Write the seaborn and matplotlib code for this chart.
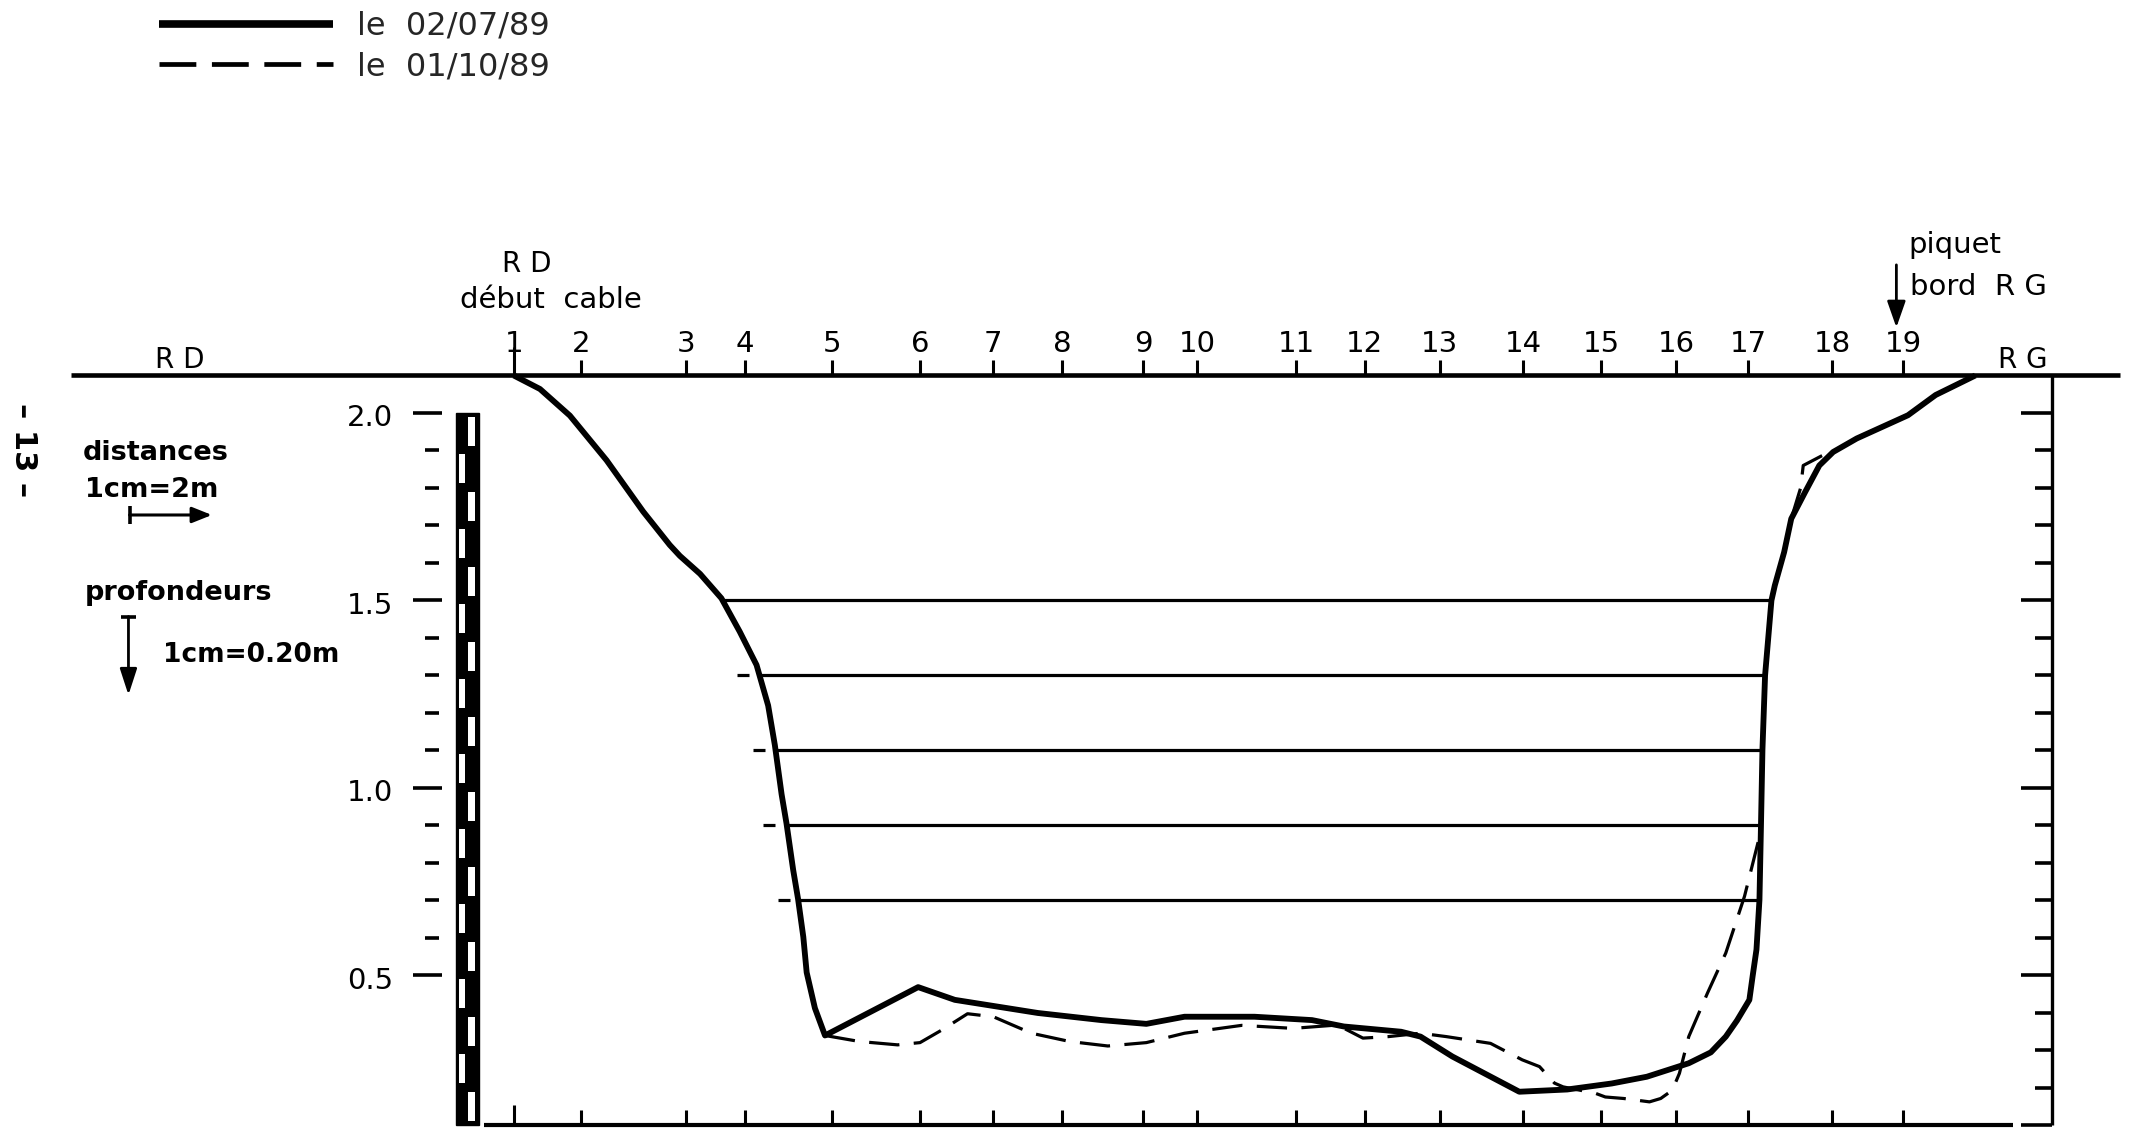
import numpy as np
import pandas as pd
import matplotlib
matplotlib.use("Agg")
import matplotlib.pyplot as plt
from matplotlib.patches import Rectangle
import seaborn as sns

# ---------------------------------------------------------------- données
# Verticales de jaugeage : numéro et abscisse (m) depuis la verticale 1
verticales = list(range(1, 20))
abscisses_verticales = [0.00, 1.79, 4.60, 6.17, 8.52, 10.86, 12.82, 14.66, 16.82, 18.27,
                        20.91, 22.75, 24.75, 26.98, 29.07, 31.07, 33.00, 35.25, 37.15]

# Profil en travers du 02/07/89 (abscisse m, cote m)
x_0207 = [0.00, 0.70, 1.50, 2.48, 3.46, 4.17, 4.44, 4.98, 5.55, 6.04, 6.49, 6.80, 6.98,
          7.16, 7.29, 7.47, 7.60, 7.74, 7.83, 8.05, 8.32,
          10.81, 11.79, 14.01, 15.71, 16.91, 17.93, 19.80, 21.34, 22.19, 23.72, 24.24,
          25.09, 26.88, 28.16, 29.35, 30.29, 31.41, 32.00, 32.40, 32.70, 33.03, 33.12,
          33.22, 33.30, 33.34, 33.38, 33.45, 33.62, 33.71, 33.96, 34.15, 34.52, 34.90,
          35.27, 35.90, 37.27, 38.01, 39.07]
cote_0207 = [2.10, 2.064, 1.993, 1.874, 1.737, 1.648, 1.619, 1.571, 1.506, 1.417, 1.328,
             1.220, 1.114, 0.983, 0.906, 0.781, 0.704, 0.603, 0.508, 0.413, 0.340,
             0.469, 0.435, 0.400, 0.381, 0.371, 0.390, 0.390, 0.381, 0.364, 0.350, 0.337,
             0.284, 0.190, 0.196, 0.212, 0.230, 0.266, 0.295, 0.337, 0.380, 0.435, 0.500,
             0.569, 0.702, 0.898, 1.103, 1.300, 1.500, 1.540, 1.629, 1.718, 1.789, 1.860,
             1.896, 1.932, 1.994, 2.048, 2.10]

# Profil en travers du 01/10/89
x_0110 = [8.32, 9.24, 10.26, 10.86, 11.45, 12.13, 12.82, 13.84, 14.86, 15.88, 16.91,
          17.93, 19.46, 20.83, 22.02, 22.70, 23.38, 24.24, 24.93, 26.11, 26.96, 27.42,
          27.82, 28.05, 28.91, 29.18, 29.67, 30.36, 30.66, 30.97, 31.16, 31.41, 31.91,
          32.40, 32.90, 33.30, 33.34, 33.38, 33.45, 33.62, 33.71, 33.96, 34.15, 34.40,
          34.47, 34.95, 35.27]
cote_0110 = [0.340, 0.324, 0.315, 0.321, 0.355, 0.398, 0.390, 0.346, 0.324, 0.312, 0.321,
             0.346, 0.367, 0.359, 0.368, 0.333, 0.337, 0.346, 0.337, 0.319, 0.275, 0.257,
             0.213, 0.203, 0.186, 0.176, 0.172, 0.163, 0.172, 0.194, 0.239, 0.337, 0.453,
             0.560, 0.711, 0.870, 0.898, 1.103, 1.300, 1.500, 1.540, 1.629, 1.718, 1.800,
             1.860, 1.885, 1.900]

dates = ["le  02/07/89", "le  01/10/89"]

# Niveaux d'eau successifs (m)
niveaux_eau = [1.5, 1.3, 1.1, 0.9, 0.7]
# Bord RD du 01/10/89 atteint par ces niveaux
niveaux_rd_0110 = [1.3, 1.1, 0.9, 0.7]
x_rd_0110 = [5.96, 6.39, 6.67, 7.07]

# Graduations des profondeurs
graduations_gauche = [2.0, 1.9, 1.8, 1.7, 1.6, 1.5, 1.4, 1.3, 1.2, 1.1, 1.0, 0.9, 0.8,
                      0.7, 0.6, 0.5]
graduations_droite = [2.0, 1.9, 1.8, 1.7, 1.6, 1.5, 1.4, 1.3, 1.2, 1.1, 1.0, 0.9, 0.8,
                      0.7, 0.6, 0.5, 0.4, 0.3, 0.2, 0.1]
cotes_principales = [2.0, 1.5, 1.0, 0.5, 0.1]
etiquettes_cotes = [2.0, 1.5, 1.0, 0.5]
cote_cable = 2.10
cote_base = 0.10

# ---------------------------------------------------------------- figure
sns.set_style("white")
plt.rcParams["font.family"] = ["DejaVu Sans"]
plt.rcParams["lines.solid_capstyle"] = "butt"

fig = plt.figure(figsize=(21.31, 11.43), dpi=100)
ax = fig.add_axes([0, 0, 1, 1])
ax.set_xlim(-13.734, 43.232)
ax.set_ylim(0.0533, 3.1013)
ax.axis("off")

K = "black"

profils = pd.concat([
    pd.DataFrame({"x": x_0207, "cote": cote_0207, "date": dates[0]}),
    pd.DataFrame({"x": x_0110, "cote": cote_0110, "date": dates[1]}),
], ignore_index=True)

sns.lineplot(data=profils[profils["date"] == dates[1]], x="x", y="cote", color=K,
             linewidth=2.3, linestyle=(0, (9.5, 4.5)), sort=False, estimator=None,
             ax=ax, zorder=3, legend=False)
sns.lineplot(data=profils[profils["date"] == dates[0]], x="x", y="cote", color=K,
             linewidth=4.2, sort=False, estimator=None, ax=ax, zorder=4, legend=False)
ligne_tiretee, ligne_pleine = ax.get_lines()[0], ax.get_lines()[1]
ligne_pleine.set_solid_joinstyle("round")

# Niveaux d'eau : d'une berge à l'autre du profil du 02/07/89
x_arr = np.asarray(x_0207)
c_arr = np.asarray(cote_0207)
i_rd = int(np.argmax(np.diff(c_arr) > 0))
i_rg = int(np.argmin(c_arr))
x_rd = np.interp(niveaux_eau, c_arr[:i_rd + 1][::-1], x_arr[:i_rd + 1][::-1])
x_rg = np.interp(niveaux_eau, c_arr[i_rg:], x_arr[i_rg:])
ax.hlines(niveaux_eau, x_rd, x_rg, color=K, lw=2.3, zorder=2)
for niv, xb in zip(niveaux_rd_0110, x_rd_0110):
    ax.hlines(niv, xb, xb + 0.32, color=K, lw=2.3)

# Ligne du câble et verticales
ax.hlines(cote_cable, -11.83, 42.93, color=K, lw=3.3)
for n, xv in zip(verticales, abscisses_verticales):
    h = 0.075 if n == 1 else 0.04
    ax.vlines(xv, cote_cable, cote_cable + h, color=K, lw=2.2)
    ax.text(xv, 2.163, str(n), ha="center", va="baseline", fontsize=21, color=K)
    hb = 0.055 if n == 1 else 0.04
    ax.vlines(xv, cote_base, cote_base + hb, color=K, lw=2.2)
ax.hlines(cote_base, -0.786, 40.08, color=K, lw=3.0)

# Échelle de droite
x_droite = 41.11
ax.vlines(x_droite, cote_base, cote_cable, color=K, lw=2.4)
for g in graduations_droite:
    L = 0.82 if g in cotes_principales else 0.45
    ax.hlines(g, x_droite - L, x_droite, color=K, lw=2.6)

# Échelle de gauche : graduations, cotes et mire
for g in graduations_gauche:
    if g in etiquettes_cotes:
        ax.hlines(g, -2.69, -1.92, color=K, lw=2.6)
    else:
        ax.hlines(g, -2.37, -1.99, color=K, lw=2.6)
for g in etiquettes_cotes:
    ax.text(-3.23, g - 0.035, f"{g:.1f}", ha="right", va="baseline", fontsize=21, color=K)

mire_x0, mire_x1 = -1.545, -0.922
ax.add_patch(Rectangle((mire_x0, cote_base), mire_x1 - mire_x0, 2.0 - cote_base,
                       facecolor=K, edgecolor=K, lw=1.0, zorder=3))
hauts = graduations_droite[:-1]
for i, haut in enumerate(hauts):
    bas = haut - 0.1
    if i % 2 == 0:
        wx0, wx1 = -1.216, -1.037
    else:
        wx0, wx1 = -1.457, -1.305
    ax.add_patch(Rectangle((wx0, bas + 0.012), wx1 - wx0, 0.1 - 0.022,
                           facecolor="white", edgecolor="none", zorder=4))

# Annotations des berges
ax.text(-8.93, 2.12, "R D", ha="center", va="baseline", fontsize=20, color=K)
ax.text(40.33, 2.119, "R G", ha="center", va="baseline", fontsize=20, color=K)
ax.text(0.35, 2.377, "R D", ha="center", va="baseline", fontsize=20, color=K)
ax.text(0.98, 2.279, "début  cable", ha="center", va="baseline", fontsize=21, color=K)
ax.text(37.27, 2.426, "piquet", ha="left", va="baseline", fontsize=21, color=K)
ax.text(37.33, 2.315, "bord  R G", ha="left", va="baseline", fontsize=21, color=K)
ax.annotate("", xy=(36.96, 2.228), xytext=(36.96, 2.395),
            arrowprops=dict(arrowstyle="-|>,head_length=0.8,head_width=0.28",
                            color=K, lw=2.0, mutation_scale=20, shrinkA=0, shrinkB=0))

# Échelles du dessin
ax.text(-11.53, 1.875, "distances", ha="left", va="baseline", fontsize=19.5,
        fontweight="bold", color=K)
ax.text(-11.47, 1.777, "1cm=2m", ha="left", va="baseline", fontsize=19.5,
        fontweight="bold", color=K)
ax.annotate("", xy=(-8.07, 1.728), xytext=(-10.27, 1.728),
            arrowprops=dict(arrowstyle="-|>,head_length=0.6,head_width=0.24",
                            color=K, lw=2.2, mutation_scale=20, shrinkA=0, shrinkB=0))
ax.vlines(-10.27, 1.704, 1.752, color=K, lw=2.6)
ax.text(-11.47, 1.501, "profondeurs", ha="left", va="baseline", fontsize=19.5,
        fontweight="bold", color=K)
ax.annotate("", xy=(-10.30, 1.248), xytext=(-10.30, 1.457),
            arrowprops=dict(arrowstyle="-|>,head_length=0.8,head_width=0.26",
                            color=K, lw=2.0, mutation_scale=20, shrinkA=0, shrinkB=0))
ax.hlines(1.457, -10.51, -10.10, color=K, lw=2.6)
ax.text(-9.38, 1.337, "1cm=0.20m", ha="left", va="baseline", fontsize=19,
        fontweight="bold", color=K)

# Numéro de page
ax.text(-13.11, 1.901, "– 13 –", rotation=-90, ha="center", va="center",
        fontsize=22, fontweight="bold", color=K)

# Légende des dates
leg = ax.legend([ligne_pleine, ligne_tiretee], dates, loc="upper left",
                bbox_to_anchor=(0.0744, 0.9905), frameon=False, fontsize=23,
                handlelength=5.45, handletextpad=0.76, labelspacing=0.29,
                borderpad=0, borderaxespad=0)
lp, lt = leg.get_lines()
lp.set_linewidth(5.5)
lt.set_linewidth(3.4)
lt.set_dashes((7.8, 3.3))

fig.savefig("out.png", dpi=100, facecolor="white")
